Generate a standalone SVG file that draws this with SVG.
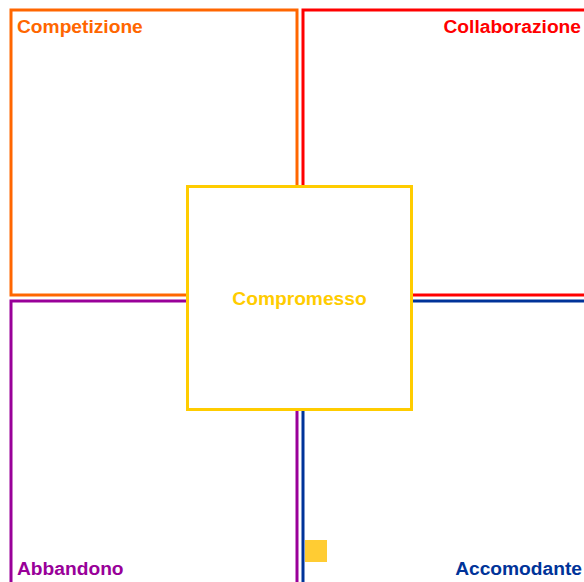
<svg xmlns="http://www.w3.org/2000/svg" width="584" height="582" viewBox="0 0 584 582">
  <style>
    .quad { fill: #ffffff; stroke-width: 3; }
    .lbl { font-family: "Liberation Sans", Arial, sans-serif; font-weight: bold; font-size: 19.2px; }
  </style>
  <rect x="0" y="0" width="584" height="582" fill="#ffffff"/>

  <g id="competizione">
    <rect class="quad" x="11" y="10" width="286" height="285" stroke="#ff6600"/>
    <text class="lbl" x="17" y="33" fill="#ff6600">Competizione</text>
  </g>

  <g id="collaborazione">
    <rect class="quad" x="303" y="10" width="300" height="285" stroke="#ff0000"/>
    <text class="lbl" x="581" y="33" fill="#ff0000" text-anchor="end">Collaborazione</text>
  </g>

  <g id="abbandono">
    <rect class="quad" x="11" y="301" width="286" height="300" stroke="#990099"/>
    <text class="lbl" x="17" y="575" fill="#990099">Abbandono</text>
  </g>

  <g id="accomodante">
    <rect class="quad" x="303" y="301" width="300" height="300" stroke="#003399"/>
    <text class="lbl" x="582" y="575" fill="#003399" text-anchor="end">Accomodante</text>
  </g>

  <g id="compromesso">
    <rect class="quad" x="187.5" y="186.5" width="224" height="223" stroke="#ffcc00"/>
    <text class="lbl" x="299.5" y="305" fill="#ffcc00" text-anchor="middle">Compromesso</text>
  </g>

  <g id="marker-square">
    <rect x="305" y="540" width="22" height="22" fill="#ffcc33"/>
  </g>

  <g id="connectors"></g>
</svg>
